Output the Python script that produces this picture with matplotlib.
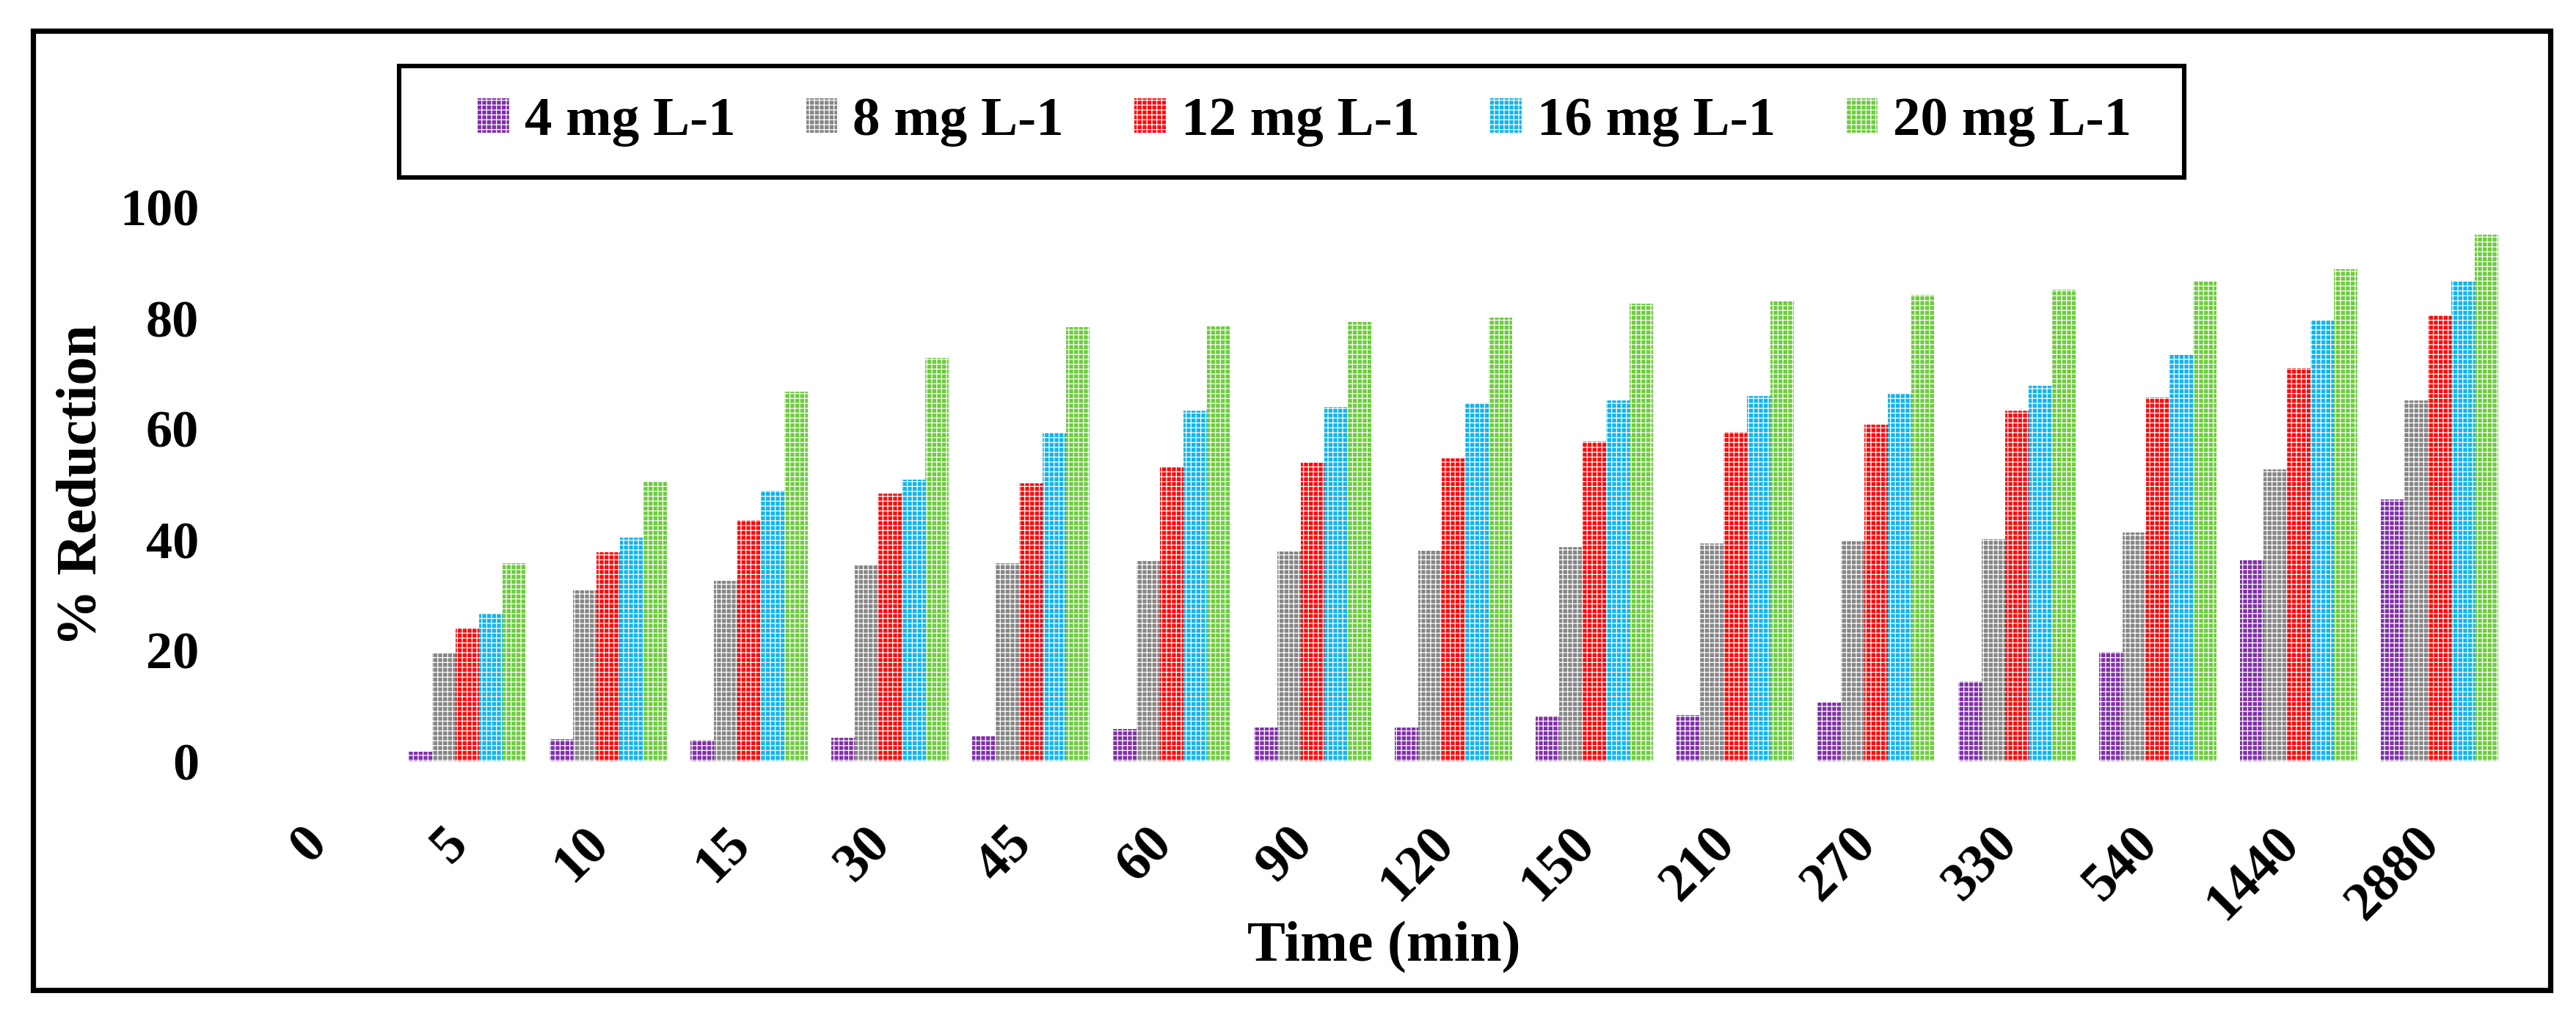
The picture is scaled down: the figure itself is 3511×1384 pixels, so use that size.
import numpy as np
import matplotlib
matplotlib.use('Agg')
import matplotlib.pyplot as plt
from matplotlib.patches import Rectangle
from matplotlib.transforms import ScaledTranslation

# time points (min) and % reduction for each dose
times = ['0', '5', '10', '15', '30', '45', '60', '90', '120', '150',
         '210', '270', '330', '540', '1440', '2880']
c4 = [0, 1.7, 4.0, 3.9, 4.3, 4.7, 5.8, 6.1, 6.1, 8.2, 8.4, 10.6, 14.5, 19.7, 36.3, 47.3]
c8 = [0, 19.5, 30.8, 32.6, 35.3, 35.7, 36.1, 37.9, 38.0, 38.7, 39.3, 39.8, 40.1, 41.3, 52.7, 65.2]
c12 = [0, 24.1, 37.7, 43.6, 48.4, 50.2, 53.2, 53.9, 54.7, 57.8, 59.5, 60.8, 63.3, 65.7, 71.0, 80.5]
c16 = [0, 26.8, 40.4, 48.9, 50.8, 59.3, 63.3, 64.0, 64.7, 65.2, 65.9, 66.5, 67.8, 73.4, 79.6, 86.8]
c20 = [0, 35.7, 50.6, 66.8, 72.9, 78.4, 78.6, 79.4, 80.1, 82.7, 83.0, 84.3, 85.1, 86.8, 88.9, 95.1]

labels = ['4 mg L-1', '8 mg L-1', '12 mg L-1', '16 mg L-1', '20 mg L-1']
colors = ['#8030A8', '#868686', '#FF0A0A', '#10B4F0', '#6CCC3C']

plt.rcParams['font.family'] = ['Liberation Serif', 'DejaVu Serif']
plt.rcParams['font.weight'] = 'bold'
plt.rcParams['hatch.linewidth'] = 0.45

W, H = 3511, 1384
fig = plt.figure(figsize=(W / 200, H / 200), dpi=200)
ax = fig.add_axes([349 / W, 1 - 1038 / H, (3421 - 349) / W, (1038 - 283) / H])

x = np.arange(len(times))
w = 0.167
series = [c4, c8, c12, c16, c20]
for i, vals in enumerate(series):
    ax.bar(x + (i - 2) * w, vals, w, color=colors[i], edgecolor='white',
           linewidth=0, hatch='+++++', label=labels[i])

ax.set_xlim(-0.5, len(times) - 0.5)
ax.set_ylim(0, 100)
ax.set_yticks([0, 20, 40, 60, 80, 100])
ax.set_xticks(x)
ax.set_xticklabels(times, rotation=45, ha='right', va='top')
ax.tick_params(axis='y', length=0, pad=28, labelsize=26)
ax.tick_params(axis='x', length=0, pad=28, labelsize=26.5)
# nudge the rotated labels a little to the right, like the original
shift = ScaledTranslation(14 / 200, 0, fig.dpi_scale_trans)
for lab in ax.get_xticklabels():
    lab.set_transform(lab.get_transform() + shift)
for s in ax.spines.values():
    s.set_visible(False)

fig.text(112 / W, 1 - 662 / H, '% Reduction', rotation=90, ha='center',
         va='center', fontsize=28, fontweight='bold')
fig.text(1886 / W, 1 - 1292 / H, 'Time (min)', ha='center', va='center',
         fontsize=28, fontweight='bold')

handles, labs = ax.get_legend_handles_labels()
fig.legend(handles, labs, loc='center', bbox_to_anchor=(1778 / W, 1 - 166 / H),
           ncol=5, frameon=False, fontsize=27, handlelength=0.57,
           handleheight=0.6, handletextpad=0.28, columnspacing=1.28,
           borderpad=0)

# legend box and outer frame
fig.add_artist(Rectangle((544 / W, 1 - 242 / H), 2433 / W, 152 / H,
                         transform=fig.transFigure, fill=False,
                         edgecolor='black', linewidth=2.2))
fig.add_artist(Rectangle((45 / W, 1 - 1350 / H), 3431 / W, 1308 / H,
                         transform=fig.transFigure, fill=False,
                         edgecolor='black', linewidth=2.6))

fig.savefig('out.png', dpi=200, facecolor='white')
